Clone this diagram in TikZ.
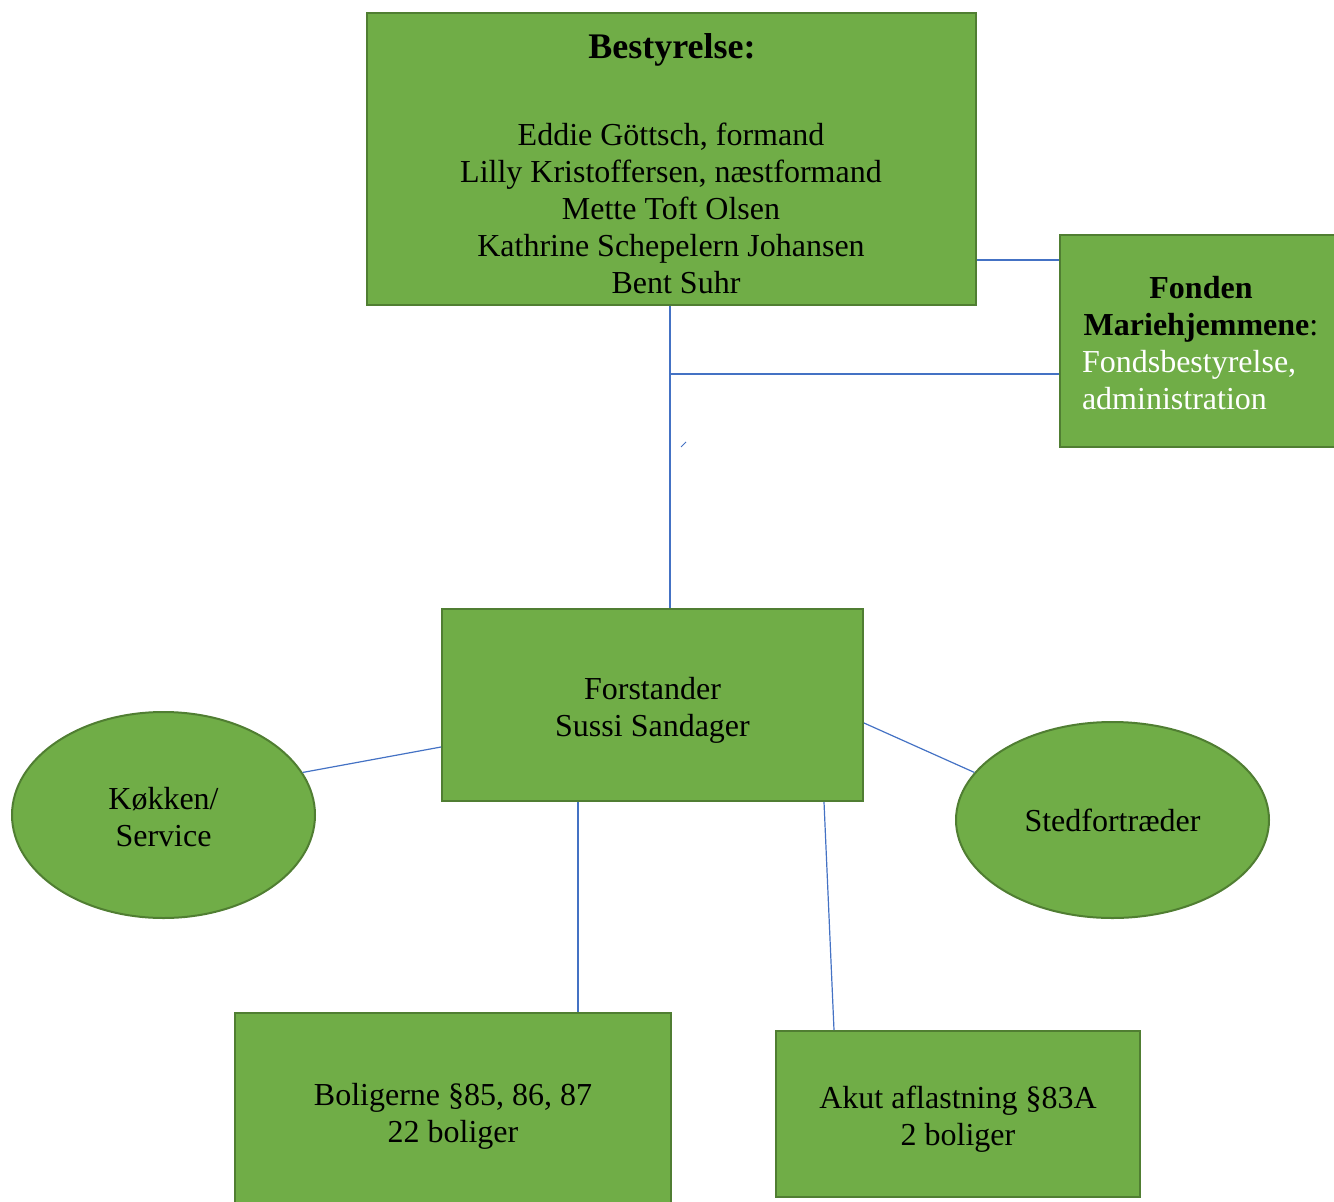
\documentclass[tikz,border=0pt]{standalone}
\usepackage{fontspec}
\setmainfont{Liberation Serif}
\usetikzlibrary{shapes.geometric}
\definecolor{boxfill}{HTML}{70AD47}
\definecolor{boxline}{HTML}{507E32}
\definecolor{conn}{HTML}{4472C4}
\begin{document}
\begin{tikzpicture}[x=1pt,y=-1pt,
  every node/.style={font=\fontsize{32}{37}\selectfont, inner sep=0pt, align=center},
  gbox/.style={draw=boxline, fill=boxfill, line width=2pt, rectangle},
  gell/.style={draw=boxline, fill=boxfill, line width=2pt, ellipse},
  link/.style={draw=conn, line width=1.2pt}]
\useasboundingbox (0,0) rectangle (1334,1202);
\begin{scope}
\clip (0,0) rectangle (1334,1202);
% shapes
\node[gbox, minimum width=609pt, minimum height=292pt] (best) at (671.5,159) {};
\node[gbox, minimum width=280pt, minimum height=212pt] (fond) at (1200,341) {};
\node[gbox, minimum width=421pt, minimum height=192pt] (forst) at (652.5,705) {};
\node[gell, minimum width=303pt, minimum height=206pt] (kok) at (163.5,815) {};
\node[gell, minimum width=313pt, minimum height=196pt] (sted) at (1112.5,820) {};
\node[gbox, minimum width=436pt, minimum height=200pt] (bolig) at (453,1113) {};
\node[gbox, minimum width=364pt, minimum height=166pt] (akut) at (958,1114) {};
\end{scope}
% texts
\node (besthead) at (672,50) {\fontsize{36}{40}\selectfont\bfseries Bestyrelse:};
\node (bestnames) at (671,208) {Eddie G\"ottsch, formand\\Lilly Kristoffersen, n\ae stformand\\Mette Toft Olsen\\Kathrine Schepelern Johansen\\\hspace*{10pt}Bent Suhr};
\node[text width=238pt, align=left] (fondtext) at (1201,343) {\makebox[\linewidth][c]{\textbf{Fonden}}\\\makebox[\linewidth][c]{\textbf{Mariehjemmene}:}\\\textcolor{white}{Fondsbestyrelse,}\\\textcolor{white}{administration}};
\node (forsttext) at (652.5,710) {Forstander\\Sussi Sandager};
\node (koktext) at (163.5,817) {K\o kken/\\Service};
\node (stedtext) at (1112.5,820) {Stedfortr\ae der};
\node (boligtext) at (453,1116) {Boligerne \S85, 86, 87\\22 boliger};
\node (akuttext) at (958,1119) {Akut aflastning \S83A\\2 boliger};
% connectors
\coordinate (j1) at (670,374);
\coordinate (t1) at (681,447);
\coordinate (t2) at (686,442);
\draw[link] (best.east |- 0,260) -- (fond.west |- 0,260);
\draw[link] (best.south -| 670,0) -- (forst.north -| 670,0);
\draw[link] (j1) -- (j1 -| fond.west);
\draw[link, line width=1pt] (t1) -- (t2);
\draw[link] (kok.17) -- (forst.west |- 0,747);
\draw[link] (forst.east |- 0,723) -- (sted.161);
\draw[link] (forst.south -| 578,0) -- (bolig.north -| 578,0);
\draw[link] (forst.south -| 824,0) -- (akut.north -| 834,0);
\end{tikzpicture}
\end{document}
